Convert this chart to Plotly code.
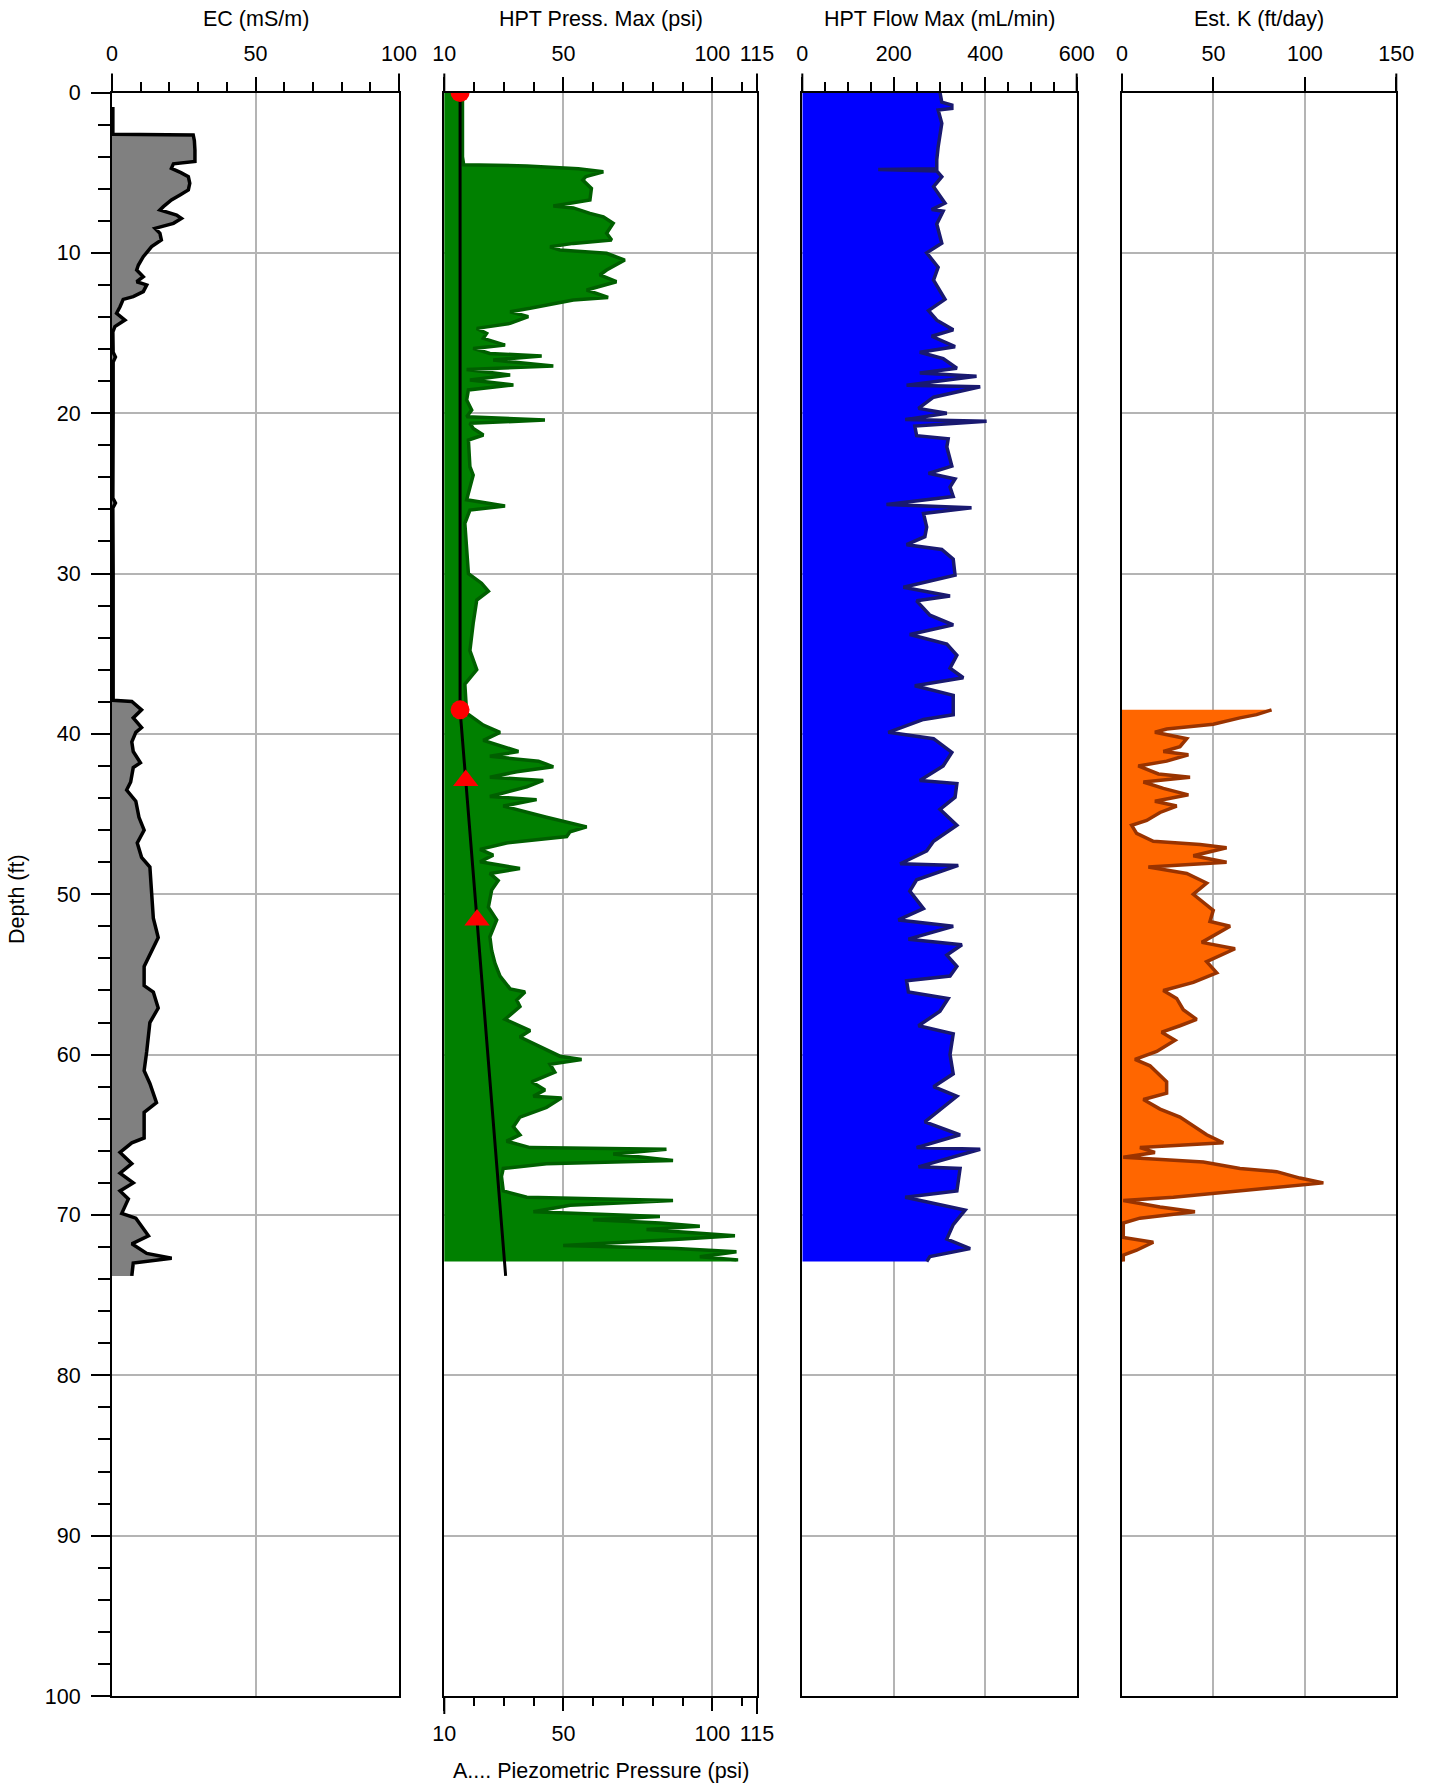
import plotly.graph_objects as go

W, H = 1435, 1788

# ---------------- data ----------------
EC_DEPTH = [0.9, 2.6, 2.65, 3.0, 3.6, 4.3, 4.45, 4.73, 5.0, 5.25, 5.66, 6.08, 6.39, 6.70, 7.12, 7.33,
            7.64, 7.85, 8.16, 8.47, 8.78, 9.2, 9.61, 10.24, 10.76, 11.07, 11.49, 11.8, 12.0, 12.42,
            12.73, 12.9, 13.36, 13.77, 14.19, 14.6, 14.92, 16.2, 16.5, 16.8, 20.0, 25.3, 25.6, 25.9,
            30.0, 37.9, 37.98, 38.5, 39.0, 39.6, 39.9, 40.5, 41.1, 41.8, 42.1, 43.0, 43.5, 44.2, 45.2,
            46.0, 46.8, 47.7, 48.3, 49.8, 51.5, 52.7, 53.6, 54.5, 55.7, 56.1, 57.1, 58.0, 59.8, 61.0,
            61.8, 63.0, 63.6, 65.2, 65.5, 66.1, 66.8, 67.4, 68.0, 68.5, 69.0, 69.9, 70.2, 71.3, 71.8,
            72.4, 72.7, 73.0, 73.8]
EC_VALUE = [0.3, 0.3, 28.3, 28.7, 28.9, 28.9, 21.4, 20.7, 24.0, 26.6, 27.1, 26.6, 23.7, 20.7, 17.9, 16.7,
            22.5, 24.2, 21.4, 15.0, 16.7, 17.2, 13.8, 10.9, 9.2, 8.6, 10.9, 8.6, 12.1, 10.9,
            7.4, 3.9, 2.8, 1.6, 4.5, 1.0, 0.3, 0.4, 1.2, 0.4, 0.4, 0.3, 1.2, 0.3,
            0.4, 0.4, 6.9, 10.3, 7.4, 10.3, 8.3, 6.9, 7.4, 9.9, 7.4, 6.5, 5.1, 8.3, 9.4,
            11.2, 8.8, 10.3, 13.2, 13.8, 14.4, 16.1, 13.8, 11.2, 11.2, 14.4, 16.1, 13.2, 12.1, 11.2,
            13.2, 15.5, 11.2, 11.2, 6.9, 2.8, 6.9, 2.8, 7.4, 2.8, 5.7, 3.4, 8.3, 12.7, 6.9,
            12.1, 20.8, 7.4, 6.9]

PRESS_DEPTH = [0.0, 4.0, 4.5, 4.58, 4.75, 4.94, 5.25, 5.46, 5.98, 6.7, 7.08, 7.2, 7.54, 7.75, 8.16, 8.78,
               9.2, 9.41, 9.62, 9.82, 10.03, 10.45, 11.07, 11.38, 11.8, 12.32, 12.53, 12.78, 12.94,
               13.15, 13.46, 13.67, 13.98, 14.4, 14.71, 15.02, 15.33, 15.75, 15.96, 16.27, 16.44,
               16.68, 17.06, 17.27, 17.62, 17.93, 18.24, 18.55, 19.18, 19.8, 20.22, 20.43, 20.63,
               20.95, 21.36, 21.67, 23.34, 23.86, 25.4, 25.79, 26.04, 26.87, 28.95, 30.0, 30.6, 31.1,
               31.65, 33.1, 34.8, 36.0, 36.9, 38.7, 39.45, 39.9, 40.4, 41.1, 41.4, 41.7, 42.05, 42.36,
               42.7, 42.9, 43.3, 43.9, 44.1, 44.5, 45.2, 45.54, 45.8, 46.1, 46.4, 46.8, 47.2, 47.56,
               47.97, 48.4, 48.7, 49.15, 49.74, 50.8, 51.6, 52.65, 53.5, 54.3, 55.1, 55.9, 56.1, 56.6,
               57.0, 57.8, 58.5, 58.9, 59.5, 60.1, 60.3, 60.6, 61.1, 61.7, 62.2, 62.6, 62.7, 63.3,
               63.9, 64.5, 65.0, 65.4, 65.8, 65.9, 66.2, 66.6, 66.8, 67.1, 67.6, 68.5, 68.9, 69.1,
               69.4, 69.8, 70.1, 70.3, 70.5, 70.7, 70.9, 71.3, 71.5, 71.9, 72.1, 72.3, 72.6, 72.8, 72.9]
PRESS_VALUE = [16.1, 16.1, 16.5, 37.7, 55.0, 63.4, 57.5, 56.5, 59.4, 58.9, 46.6, 53.3, 58.9, 63.4, 66.7, 64.5,
               66.2, 53.3, 45.5, 48.8, 64.5, 70.6, 64.5, 62.2, 67.8, 57.8, 61.1, 65.0, 53.3,
               47.7, 38.8, 32.1, 38.2, 32.1, 20.9, 24.2, 23.1, 30.4, 19.7, 25.3, 42.7,
               26.4, 46.6, 17.5, 32.1, 18.6, 33.2, 18.1, 17.5, 19.2, 17.5, 43.8, 18.6,
               19.7, 23.1, 18.1, 18.6, 19.7, 17.5, 30.4, 18.6, 16.9, 17.5, 18.1, 22.5, 24.8,
               20.9, 19.7, 18.6, 20.9, 16.9, 17.5, 23.1, 28.7, 23.1, 34.9, 25.3, 41.6, 46.6, 34.3,
               25.3, 43.2, 37.7, 25.3, 41.0, 29.8, 44.3, 52.2, 57.8, 52.2, 51.1, 30.9, 22.0, 26.4,
               22.0, 35.4, 25.3, 28.1, 25.9, 24.8, 27.6, 25.3, 25.9, 27.0, 28.7, 32.1, 37.1, 34.3,
               35.4, 30.4, 38.8, 35.4, 42.1, 48.8, 56.1, 45.5, 47.1, 39.3, 43.8, 39.9, 49.4, 44.3,
               35.4, 33.2, 35.4, 30.9, 38.8, 84.6, 66.7, 86.8, 44.3, 29.8, 29.2, 29.8, 37.7, 86.8,
               52.2, 39.9, 82.4, 59.9, 82.4, 95.8, 77.9, 107.6, 90.2, 49.9, 88.0, 108.1, 95.8, 108.1, 108.1]

PIEZO_DEPTH = [0.0, 38.5, 73.8]
PIEZO_VALUE = [15.3, 15.3, 30.6]
WATER_DEPTH = [0.0, 38.5]
WATER_VALUE = [15.3, 15.3]
TRI_DEPTH = [42.9, 51.6]
TRI_VALUE = [17.2, 21.0]

FLOW_DEPTH = [0.0, 0.6, 0.78, 1.0, 1.09, 1.92, 3.4, 4.2, 4.75, 4.8, 4.9, 5.25, 5.87, 6.9, 7.3, 7.4, 8.2,
              9.4, 10.0, 10.9, 11.7, 12.9, 13.6, 14.2, 14.8, 15.2, 15.85, 16.2, 16.6, 17.2, 17.5, 17.7,
              18.25, 18.35, 19.0, 19.7, 20.0, 20.4, 20.5, 20.8, 21.4, 21.6, 22.1, 23.3, 23.75, 24.1,
              24.6, 25.2, 25.7, 25.9, 26.25, 27.1, 27.7, 28.2, 28.5, 29.1, 30.1, 30.85, 31.4, 31.7,
              32.6, 33.2, 33.8, 34.4, 35.1, 35.9, 36.5, 37.0, 37.6, 38.8, 39.1, 39.9, 40.3, 41.15,
              42.0, 42.9, 43.1, 43.95, 44.7, 45.7, 46.7, 47.3, 48.1, 48.2, 49.1, 49.8, 50.9, 51.6,
              52.0, 52.8, 53.15, 53.8, 54.5, 55.1, 55.4, 56.1, 56.5, 57.3, 58.2, 58.7, 60.0, 61.2,
              62.0, 62.6, 64.2, 65.0, 65.8, 65.9, 67.0, 67.1, 68.5, 68.9, 69.7, 70.6, 71.5, 72.1,
              72.6, 72.9]
FLOW_VALUE = [301, 305, 327, 327, 297, 305, 297, 294, 294, 166, 294, 305, 287, 312, 283, 308, 294,
              305, 272, 297, 287, 312, 276, 294, 330, 283, 334, 257, 308, 338, 257, 381,
              228, 389, 287, 254, 316, 225, 403, 246, 250, 319, 316, 327, 276, 334,
              323, 330, 184, 370, 265, 272, 268, 228, 305, 330, 334, 221, 323, 250,
              279, 330, 235, 316, 338, 323, 352, 246, 330, 330, 265, 188, 287, 327,
              308, 257, 338, 334, 301, 338, 287, 272, 214, 341, 250, 235, 265, 210,
              330, 232, 349, 316, 338, 323, 228, 232, 319, 301, 254, 330, 323, 330,
              287, 338, 268, 345, 250, 389, 254, 345, 338, 225, 356, 330, 316, 367,
              279, 272]

K_DEPTH = [38.5, 38.8, 39.0, 39.4, 39.7, 39.9, 40.3, 40.8, 41.1, 41.3, 41.7, 42.0, 42.5, 42.7, 43.0, 43.4,
           43.8, 44.2, 44.5, 44.9, 45.4, 45.7, 46.2, 46.7, 46.9, 47.1, 47.6, 48.0, 48.3, 48.7, 49.3,
           50.0, 51.0, 51.7, 52.0, 52.6, 53.0, 53.4, 54.2, 54.9, 55.5, 56.0, 56.5, 57.2, 57.8, 58.2,
           58.6, 59.1, 59.8, 60.3, 60.7, 61.7, 62.4, 62.8, 63.4, 63.9, 64.6, 65.0, 65.5, 65.8, 66.1,
           66.4, 66.7, 67.1, 67.3, 67.7, 68.0, 68.4, 68.9, 69.1, 69.5, 69.8, 70.2, 70.5, 71.4, 71.7,
           72.2, 72.5, 72.9]
K_VALUE = [81.8, 73.6, 64.5, 49.9, 24.4, 18.0, 35.4, 31.7, 22.6, 36.3, 24.4, 8.9, 19.9, 37.2, 11.7, 22.6,
           36.3, 18.0, 29.9, 20.8, 13.5, 5.3, 8.0, 17.1, 42.7, 57.2, 39.0, 57.2, 14.4, 35.4, 46.3,
           39.0, 49.9, 48.1, 59.1, 49.9, 43.6, 61.8, 46.3, 51.8, 39.0, 22.6, 29.9, 33.5, 40.8, 31.7,
           21.7, 29.0, 19.0, 7.1, 15.3, 24.4, 24.4, 11.7, 20.8, 31.7, 40.8, 46.3, 55.4, 9.8, 18.0,
           0.7, 44.5, 64.5, 84.6, 97.3, 110.1, 73.6, 28.1, 0.7, 20.8, 39.9, 9.8, 0.7, 0.7, 17.1,
           8.0, 0.7, 0.7]

DEPTH_TICKS = list(range(0, 101, 10))
EC_TICKS = [0, 50, 100]
PRESS_TICKS = [10, 50, 100, 115]
FLOW_TICKS = [0, 200, 400, 600]
K_TICKS = [0, 50, 100, 150]

# ---------------- layout geometry (page pixels) ----------------
TOP, BOT = 92.5, 1696.0
PLOT_H = BOT - TOP
PANELS = {
    'x':  (112.0, 399.0),
    'x2': (444.3, 757.0),
    'x3': (802.3, 1076.7),
    'x4': (1122.0, 1396.3),
}


def fx(px):
    return px / W


def fy(py):
    return 1 - py / H


YDOM = [fy(BOT), fy(TOP)]
FONT = dict(family='Liberation Sans, Arial, sans-serif', size=21.5, color='black')
GRID = '#b4b4b4'

fig = go.Figure()

fig.add_trace(go.Scatter(x=EC_VALUE, y=EC_DEPTH, mode='lines', fill='tozerox',
                         fillcolor='#808080', line=dict(color='black', width=3.5),
                         xaxis='x', yaxis='y', showlegend=False))
fig.add_trace(go.Scatter(x=PRESS_VALUE, y=PRESS_DEPTH, mode='lines', fill='tozerox',
                         fillcolor='#008000', line=dict(color='#005f00', width=3.5),
                         xaxis='x2', yaxis='y2', showlegend=False))
fig.add_trace(go.Scatter(x=PIEZO_VALUE, y=PIEZO_DEPTH, mode='lines',
                         line=dict(color='black', width=3),
                         xaxis='x5', yaxis='y2', showlegend=False))
fig.add_trace(go.Scatter(x=WATER_VALUE, y=WATER_DEPTH, mode='markers',
                         marker=dict(symbol='circle', size=19, color='#ff0000'),
                         xaxis='x5', yaxis='y2', showlegend=False))
fig.add_trace(go.Scatter(x=TRI_VALUE, y=TRI_DEPTH, mode='markers',
                         marker=dict(symbol='triangle-up', size=22, color='#ff0000'),
                         xaxis='x5', yaxis='y2', showlegend=False))
fig.add_trace(go.Scatter(x=FLOW_VALUE, y=FLOW_DEPTH, mode='lines', fill='tozerox',
                         fillcolor='#0000ff', line=dict(color='#191970', width=3.5),
                         xaxis='x3', yaxis='y3', showlegend=False))
fig.add_trace(go.Scatter(x=K_VALUE, y=K_DEPTH, mode='lines', fill='tozerox',
                         fillcolor='#ff6600', line=dict(color='#993300', width=3.5),
                         xaxis='x4', yaxis='y4', showlegend=False))


def xaxis(name, rng, tickvals, minor, anchor, side='top', grid=True):
    x0, x1 = PANELS[name]
    d = dict(domain=[fx(x0), fx(x1)], range=rng, side=side, anchor=anchor,
             tickmode='array', tickvals=tickvals, ticks='outside', ticklen=14,
             tickwidth=2, tickcolor='black', showgrid=grid, gridcolor=GRID, gridwidth=2,
             showline=True, linecolor='black', linewidth=2, mirror=True,
             zeroline=False, tickfont=FONT, ticklabelstandoff=7, fixedrange=True)
    if minor is not None:
        d['minor'] = minor
    return d


def yaxis(anchor, main=False):
    d = dict(domain=YDOM, range=[100, 0], anchor=anchor, showgrid=True, gridcolor=GRID,
             gridwidth=2, showline=True, linecolor='black', linewidth=2, mirror=True,
             zeroline=False, fixedrange=True)
    if main:
        d.update(tickmode='array', tickvals=DEPTH_TICKS, ticks='outside', ticklen=19,
                 tickwidth=2, tickcolor='black', tickfont=FONT, ticklabelstandoff=6,
                 minor=dict(tick0=0, dtick=2, ticks='outside', ticklen=12, tickwidth=2,
                            tickcolor='black', showgrid=False))
    else:
        d.update(matches='y', showticklabels=False, ticks='',
                 tickmode='array', tickvals=DEPTH_TICKS)
    return d


def minor(tick0, dtick):
    return dict(tick0=tick0, dtick=dtick, ticks='outside', ticklen=9, tickwidth=2,
                tickcolor='black', showgrid=False)


x5 = xaxis('x2', [10, 115], PRESS_TICKS, minor(10, 10), 'y2', side='bottom', grid=False)
x5.update(overlaying='x2', mirror=False, ticklen=13, ticklabelstandoff=4)
x5['minor']['ticklen'] = 8

fig.update_layout(
    width=W, height=H,
    margin=dict(l=0, r=0, t=0, b=0),
    paper_bgcolor='white', plot_bgcolor='white',
    template='none',
    showlegend=False,
    hovermode=False,
    xaxis=xaxis('x', [0, 100], EC_TICKS, minor(0, 10), 'y'),
    xaxis2=xaxis('x2', [10, 115], PRESS_TICKS, minor(10, 10), 'y2'),
    xaxis3=xaxis('x3', [0, 600], FLOW_TICKS, minor(0, 50), 'y3'),
    xaxis4=xaxis('x4', [0, 150], K_TICKS, None, 'y4'),
    xaxis5=x5,
    yaxis=yaxis('x', main=True),
    yaxis2=yaxis('x2'),
    yaxis3=yaxis('x3'),
    yaxis4=yaxis('x4'),
)

# longer end ticks on the top axes (and bottom of the pressure track)
shapes = []
ext_top = 19 / PLOT_H
ext_bot = 18 / PLOT_H
for ax, yref in [('x', 'y'), ('x2', 'y2'), ('x3', 'y3'), ('x4', 'y4')]:
    for xv in (0, 1):
        shapes.append(dict(type='line', xref=f'{ax} domain', yref=f'{yref} domain',
                           x0=xv, x1=xv, y0=1, y1=1 + ext_top,
                           line=dict(color='black', width=2)))
for xv in (0, 1):
    shapes.append(dict(type='line', xref='x2 domain', yref='y2 domain',
                       x0=xv, x1=xv, y0=0, y1=-ext_bot,
                       line=dict(color='black', width=2)))
fig.update_layout(shapes=shapes)

titles = [
    ('EC (mS/m)', 'x', 19),
    ('HPT Press. Max (psi)', 'x2', 19),
    ('HPT Flow Max (mL/min)', 'x3', 19),
    ('Est. K (ft/day)', 'x4', 19),
    ('A.... Piezometric Pressure (psi)', 'x2', 1771),
]
for text, ax, py in titles:
    x0, x1 = PANELS[ax]
    fig.add_annotation(text=text, x=fx((x0 + x1) / 2), y=fy(py), xref='paper', yref='paper',
                       xanchor='center', yanchor='middle', showarrow=False, font=FONT)
fig.add_annotation(text='Depth (ft)', x=fx(17), y=fy(899), xref='paper', yref='paper',
                   xanchor='center', yanchor='middle', showarrow=False, font=FONT,
                   textangle=-90)

# remove the default 8px page margin so the figure fills the window exactly
fig.write_html('out.html', config={'displayModeBar': False, 'staticPlot': True},
               post_script="document.body.style.margin='0';")
